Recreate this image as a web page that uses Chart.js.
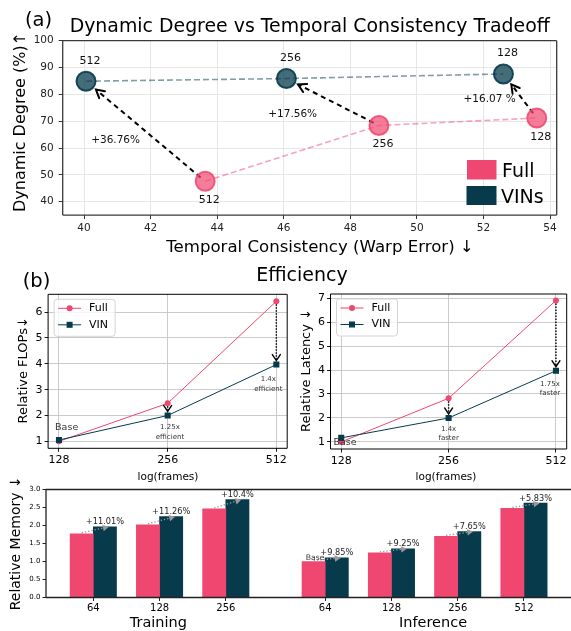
<!DOCTYPE html>
<html><head><meta charset="utf-8">
<script src="https://cdn.jsdelivr.net/npm/chart.js@4.4.1/dist/chart.umd.min.js"></script>
<style>
html,body{margin:0;padding:0;background:#fff;}
#wrap{position:relative;width:571px;height:631px;overflow:hidden;background:#fff;}
canvas{position:absolute;left:0;top:0;}
</style></head><body>
<div id="wrap">
<canvas id="cA" width="571" height="631"></canvas>
<canvas id="cB1" width="571" height="631"></canvas>
<canvas id="cB2" width="571" height="631"></canvas>
<canvas id="cC" width="571" height="631"></canvas>
</div>
<script>
// ---------------- data ----------------
// (a) Dynamic degree vs temporal consistency
const scatterFrames = ['512', '256', '128'];
const vinWarp = [40.06, 46.08, 52.6];
const vinDynamic = [84.9, 85.9, 87.6];
const fullWarp = [43.64, 48.86, 53.6];
const fullDynamic = [47.6, 68.4, 71.2];
const gainLabels = ['+36.76%', '+17.56%', '+16.07 %'];
const warpTicks = [40, 42, 44, 46, 48, 50, 52, 54];
const dynamicTicks = [40, 50, 60, 70, 80, 90, 100];

// (b) efficiency line charts
const lineFrames = ['128', '256', '512'];
const flopsFull = [1.0, 2.47, 6.42];
const flopsVIN = [1.05, 2.0, 3.97];
const flopsTicks = [1, 2, 3, 4, 5, 6];
const flopsNotes = ['Base', '1.25x\nefficient', '1.4x\nefficient'];
const latencyFull = [1.0, 2.82, 6.9];
const latencyVIN = [1.17, 2.0, 3.97];
const latencyTicks = [1, 2, 3, 4, 5, 6, 7];
const latencyNotes = ['Base', '1.4x\nfaster', '1.75x\nfaster'];

// memory bars
const trainFrames = ['64', '128', '256'];
const trainFull = [1.77, 2.02, 2.46];
const trainVIN = [1.965, 2.245, 2.72];
const trainGain = ['+11.01%', '+11.26%', '+10.4%'];
const infFrames = ['64', '128', '256', '512'];
const infFull = [1.0, 1.24, 1.70, 2.475];
const infVIN = [1.10, 1.355, 1.83, 2.62];
const infGain = ['+9.85%', '+9.25%', '+7.65%', '+5.83%'];
const memoryTicks = [0, 0.5, 1, 1.5, 2, 2.5, 3];

// ---------------- layout / style ----------------
const PINK = '#EF476F', TEAL = '#073B4C';
const FONT = '"DejaVu Sans", sans-serif';
const W = 571, H = 631;
const groupPos = [0, 1, 2, 3.5, 4.5, 5.5, 6.5];   // bar group slots on the x axis

Chart.defaults.font.family = FONT;
Chart.defaults.animation = false;
Chart.defaults.responsive = false;
Chart.defaults.maintainAspectRatio = false;
Chart.defaults.plugins.legend.display = false;
Chart.defaults.plugins.tooltip.enabled = false;

function pad(a, yW, xH) { return {left: a.l - yW, top: a.t, right: W - a.r, bottom: H - a.b - xH}; }
function ticksAt(list) { return s => { s.ticks = list.map(v => ({value: v})); }; }
function fitY(w) { return s => { s.width = w; s.paddingTop = 0; s.paddingBottom = 0; }; }
function fitX(h) { return s => { s.height = h; s.paddingLeft = 0; s.paddingRight = 0; }; }

function txt(ctx, s, x, y, size, o = {}) {
  ctx.save();
  ctx.font = `${size}px ${FONT}`;
  ctx.fillStyle = o.color || '#000';
  ctx.textAlign = o.align || 'center';
  ctx.textBaseline = o.base || 'alphabetic';
  ctx.translate(x, y);
  if (o.rot) ctx.rotate(o.rot);
  ctx.fillText(s, 0, 0);
  ctx.restore();
}
function arrow(ctx, x1, y1, x2, y2, o) {
  const dx = x2 - x1, dy = y2 - y1, L = Math.hypot(dx, dy), ux = dx / L, uy = dy / L;
  const sx = x1 + ux * o.sa, sy = y1 + uy * o.sa, ex = x2 - ux * o.sb, ey = y2 - uy * o.sb;
  ctx.save();
  ctx.strokeStyle = o.color; ctx.fillStyle = o.color; ctx.lineWidth = o.lw;
  ctx.setLineDash(o.dash);
  ctx.beginPath(); ctx.moveTo(sx, sy); ctx.lineTo(ex - ux * (o.fill ? o.hl * 0.8 : 0), ey - uy * (o.fill ? o.hl * 0.8 : 0)); ctx.stroke();
  ctx.setLineDash([]);
  const bx = ex - ux * o.hl, by = ey - uy * o.hl, px = -uy, py = ux;
  ctx.beginPath();
  ctx.moveTo(bx + px * o.hw, by + py * o.hw); ctx.lineTo(ex, ey); ctx.lineTo(bx - px * o.hw, by - py * o.hw);
  if (o.fill) { ctx.closePath(); ctx.fill(); } else { ctx.lineCap = 'round'; ctx.lineJoin = 'miter'; ctx.stroke(); }
  ctx.restore();
}
function box(ctx, a, color, lw, sides) {
  ctx.save(); ctx.strokeStyle = color; ctx.lineWidth = lw; ctx.beginPath();
  if (sides.includes('t')) { ctx.moveTo(a.left, a.top); ctx.lineTo(a.right, a.top); }
  if (sides.includes('b')) { ctx.moveTo(a.left, a.bottom); ctx.lineTo(a.right, a.bottom); }
  if (sides.includes('l')) { ctx.moveTo(a.left, a.top); ctx.lineTo(a.left, a.bottom); }
  if (sides.includes('r')) { ctx.moveTo(a.right, a.top); ctx.lineTo(a.right, a.bottom); }
  ctx.stroke(); ctx.restore();
}

// ---------------- (a) scatter ----------------
const AREA_A = {l: 62.7, t: 40.7, r: 556.7, b: 215.1};
const gainOffset = [[-30, 9], [-40, 12.5], [-30.5, 3.7]];
const pluginA = {
  id: 'annA',
  beforeDatasetsDraw(chart) {
    const {ctx, scales: {x, y}} = chart;
    for (let i = 0; i < 3; i++) {
      arrow(ctx, x.getPixelForValue(fullWarp[i]), y.getPixelForValue(fullDynamic[i]),
        x.getPixelForValue(vinWarp[i]), y.getPixelForValue(vinDynamic[i]),
        {sa: 6, sb: 13, color: '#000', lw: 2, dash: [5, 4], hl: 8, hw: 4.5, fill: false});
    }
  },
  afterDraw(chart) {
    const {ctx, scales: {x, y}, chartArea: a} = chart;
    box(ctx, a, '#3a3a3a', 1.3, 'tblr');
    for (let i = 0; i < 3; i++) {
      const vx = x.getPixelForValue(vinWarp[i]), vy = y.getPixelForValue(vinDynamic[i]);
      const fx = x.getPixelForValue(fullWarp[i]), fy = y.getPixelForValue(fullDynamic[i]);
      txt(ctx, scatterFrames[i], vx + 4, vy - 20.5, 11, {base: 'middle', color: '#111'});
      txt(ctx, scatterFrames[i], fx + 4, fy + 19, 11, {base: 'middle', color: '#111'});
      const mx = (vx + fx) / 2 + gainOffset[i][0], my = (vy + fy) / 2 + gainOffset[i][1];
      txt(ctx, gainLabels[i], mx, my, 10.5, {base: 'middle', color: '#111'});
    }
    // legend
    ctx.fillStyle = PINK; ctx.fillRect(467, 160, 29.5, 19.5);
    ctx.fillStyle = TEAL; ctx.fillRect(466.5, 186, 30, 19);
    txt(ctx, 'Full', 502, 177, 19, {align: 'left'});
    txt(ctx, 'VINs', 501, 203, 19, {align: 'left'});
    // titles
    txt(ctx, '(a)', 25, 25.5, 19.5, {align: 'left'});
    txt(ctx, 'Dynamic Degree vs Temporal Consistency Tradeoff', (a.left + a.right) / 2, 31.7, 18.9);
    txt(ctx, 'Dynamic Degree (%)\u2191', 25, 122, 16, {rot: -Math.PI / 2});
    txt(ctx, 'Temporal Consistency (Warp Error) \u2193', 320, 251.5, 16.6);
  }
};
new Chart(document.getElementById('cA'), {
  type: 'scatter',
  data: {datasets: [
    {label: 'VINs', data: vinWarp.map((v, i) => ({x: v, y: vinDynamic[i]})), showLine: true,
     borderColor: 'rgba(7,59,76,0.5)', borderWidth: 1.6, borderDash: [6, 3],
     pointRadius: 9.5, pointBackgroundColor: 'rgba(7,59,76,0.75)', pointBorderColor: 'rgba(7,59,76,0.9)', pointBorderWidth: 2},
    {label: 'Full', data: fullWarp.map((v, i) => ({x: v, y: fullDynamic[i]})), showLine: true,
     borderColor: 'rgba(239,71,111,0.5)', borderWidth: 1.6, borderDash: [6, 3],
     pointRadius: 9.5, pointBackgroundColor: 'rgba(239,71,111,0.7)', pointBorderColor: 'rgba(239,71,111,0.85)', pointBorderWidth: 2}
  ]},
  options: {
    devicePixelRatio: 1,
    layout: {padding: pad(AREA_A, 50, 20)},
    scales: {
      x: {type: 'linear', min: 39.36, max: 54.2, afterBuildTicks: ticksAt(warpTicks), afterFit: fitX(20),
          ticks: {font: {size: 10.5}, color: '#222', padding: 3, maxRotation: 0, autoSkip: false},
          grid: {color: '#e6e6e6', tickColor: '#333', tickLength: 4}, border: {display: false}},
      y: {type: 'linear', min: 35, max: 100, afterBuildTicks: ticksAt(dynamicTicks), afterFit: fitY(50),
          ticks: {font: {size: 10.5}, color: '#222', padding: 5, autoSkip: false},
          grid: {color: '#e6e6e6', tickColor: '#333', tickLength: 4}, border: {display: false}}
    }
  },
  plugins: [pluginA]
});

// ---------------- (b) line charts ----------------
function lineChart(id, area, full, vin, yTicks, yMin, yMax, notes, noteOff, noteGap, yTitle, yTitleX, xTitleX, extra) {
  const plugin = {
    id: 'ann' + id,
    afterDatasetsDraw(chart) {
      const {ctx, scales: {x, y}} = chart;
      for (let i = 1; i < 3; i++) {
        const px = x.getPixelForValue(i);
        arrow(ctx, px, y.getPixelForValue(full[i]) + 3, px, y.getPixelForValue(vin[i]) - 4,
          {sa: 0, sb: 0, color: '#000', lw: 1.4, dash: [1.5, 1.5], hl: 6, hw: 4, fill: false});
      }
    },
    afterDraw(chart) {
      const {ctx, scales: {x, y}, chartArea: a} = chart;
      box(ctx, a, '#000', 1, 'tblr');
      for (let i = 0; i < 3; i++) {
        const px = x.getPixelForValue(i) + noteOff[i][0], py = y.getPixelForValue(vin[i]) + noteOff[i][1];
        const lines = notes[i].split('\n');
        const size = lines.length === 1 ? 9.5 : 7;
        lines.forEach((s, k) => txt(ctx, s, px, py + k * noteGap, size, {base: 'middle', color: '#333'}));
      }
      // legend
      const lx = a.left + 6, ly = a.top + 5;
      ctx.save();
      ctx.fillStyle = 'rgba(255,255,255,0.8)'; ctx.strokeStyle = '#d4d4d4'; ctx.lineWidth = 1;
      ctx.beginPath(); ctx.roundRect(lx, ly, 61, 37, 3); ctx.fill(); ctx.stroke();
      [[PINK, 'Full', 'circle', 9], [TEAL, 'VIN', 'rect', 25.5]].forEach(([c, s, st, dy]) => {
        ctx.strokeStyle = c; ctx.fillStyle = c; ctx.lineWidth = 1;
        ctx.beginPath(); ctx.moveTo(lx + 4, ly + dy); ctx.lineTo(lx + 27, ly + dy); ctx.stroke();
        if (st === 'circle') { ctx.beginPath(); ctx.arc(lx + 15.5, ly + dy, 3, 0, Math.PI * 2); ctx.fill(); }
        else ctx.fillRect(lx + 12.5, ly + dy - 3, 6, 6);
        txt(ctx, s, lx + 35, ly + dy, 11, {align: 'left', base: 'middle'});
      });
      ctx.restore();
      txt(ctx, yTitle, yTitleX, (a.top + a.bottom) / 2 - 1, 13, {rot: -Math.PI / 2});
      txt(ctx, 'log(frames)', xTitleX, 479.5, 10.5);
      if (extra) extra(ctx);
    }
  };
  new Chart(document.getElementById(id), {
    type: 'line',
    data: {datasets: [
      {label: 'VIN', data: vin.map((v, i) => ({x: i, y: v})), borderColor: TEAL, borderWidth: 1,
       pointStyle: 'rect', pointRadius: 4.3, pointBackgroundColor: TEAL, pointBorderWidth: 0},
      {label: 'Full', data: full.map((v, i) => ({x: i, y: v})), borderColor: PINK, borderWidth: 1,
       pointStyle: 'circle', pointRadius: 3, pointBackgroundColor: PINK, pointBorderWidth: 0}
    ]},
    options: {
      devicePixelRatio: 1,
      layout: {padding: pad(area, 40, 20)},
      scales: {
        x: {type: 'linear', min: -0.1, max: 2.1, afterBuildTicks: ticksAt([0, 1, 2]), afterFit: fitX(20),
            ticks: {font: {size: 11}, color: '#000', padding: 2, maxRotation: 0, autoSkip: false,
                    callback: (v, i) => lineFrames[i]},
            grid: {color: '#c4c4c4', lineWidth: 0.9, tickColor: '#000', tickLength: 3.5}, border: {display: false}},
        y: {type: 'linear', min: yMin, max: yMax, afterBuildTicks: ticksAt(yTicks), afterFit: fitY(40),
            ticks: {font: {size: 11}, color: '#000', padding: 2, autoSkip: false},
            grid: {color: '#c4c4c4', lineWidth: 0.9, tickColor: '#000', tickLength: 3.5}, border: {display: false}}
      }
    },
    plugins: [plugin]
  });
}
lineChart('cB1', {l: 48.1, t: 294.3, r: 287.2, b: 448.3}, flopsFull, flopsVIN, flopsTicks, 0.73, 6.69,
  flopsNotes, [[7.7, -12.7], [2.3, 11.8], [-8, 14.7]], 10, 'Relative FLOPs\u2193', 26.5, 168,
  ctx => {
    txt(ctx, '(b)', 22.7, 287, 19.5, {align: 'left'});
    txt(ctx, 'Efficiency', 302, 281, 19);
  });
lineChart('cB2', {l: 330.5, t: 294, r: 570.5, b: 449}, latencyFull, latencyVIN, latencyTicks, 0.706, 7.17,
  latencyNotes, [[3.8, 5], [0, 11], [-6, 13.6]], 9, 'Relative Latency \u2193', 310, 446, null);

// ---------------- memory bars ----------------
const AREA_C = {l: 46, t: 489.5, r: 571, b: 597.5};
const barFrames = trainFrames.concat(infFrames);
const allFull = trainFull.concat(infFull);
const allVIN = trainVIN.concat(infVIN);
const allGain = trainGain.concat(infGain);
const XMIN_C = -0.714, XMAX_C = 7.21;
const BAR_W = 0.35 * (AREA_C.r - AREA_C.l) / (XMAX_C - XMIN_C);
const pluginC = {
  id: 'annC',
  afterDraw(chart) {
    const {ctx, scales: {x, y}, chartArea: a} = chart;
    box(ctx, a, '#222', 1.3, 'tbl');
    for (let i = 0; i < groupPos.length; i++) {
      const c = x.getPixelForValue(groupPos[i]);
      const pc = c - BAR_W / 2, dc = c + BAR_W / 2;
      const pt = y.getPixelForValue(allFull[i]), dt = y.getPixelForValue(allVIN[i]);
      arrow(ctx, pc, pt - 1, dc + 4, dt, {sa: 0, sb: 0, color: '#9a9a9a', lw: 1.3, dash: [1.3, 2], hl: 6, hw: 3.2, fill: true});
      txt(ctx, allGain[i], dc, dt - 2.5, 8.2, {color: '#222'});
    }
    const b0 = x.getPixelForValue(groupPos[3]) - BAR_W / 2;
    txt(ctx, 'Base', b0 + 1.6, y.getPixelForValue(infFull[0]) - 2, 7.7, {color: '#333'});
    txt(ctx, 'Training', 158.3, 626.7, 14.5);
    txt(ctx, 'Inference', 433, 626.7, 14.5);
    txt(ctx, 'Relative Memory \u2193', 20, 543.3, 14, {rot: -Math.PI / 2});
  }
};
new Chart(document.getElementById('cC'), {
  type: 'bar',
  data: {datasets: [
    {label: 'Full', data: allFull.map((v, i) => ({x: groupPos[i], y: v})), backgroundColor: PINK, borderWidth: 0, barThickness: BAR_W},
    {label: 'VIN', data: allVIN.map((v, i) => ({x: groupPos[i], y: v})), backgroundColor: TEAL, borderWidth: 0, barThickness: BAR_W}
  ]},
  options: {
    devicePixelRatio: 1,
    layout: {padding: pad(AREA_C, 40, 20)},
    scales: {
      x: {type: 'linear', offset: false, min: XMIN_C, max: XMAX_C, afterBuildTicks: ticksAt(groupPos), afterFit: fitX(20),
          ticks: {font: {size: 10}, color: '#000', padding: 1.5, maxRotation: 0, autoSkip: false,
                  callback: (v, i) => barFrames[i]},
          grid: {display: true, offset: false, drawOnChartArea: false, tickColor: '#222', tickLength: 3.5}, border: {display: false}},
      y: {type: 'linear', min: 0, max: 3, afterBuildTicks: ticksAt(memoryTicks), afterFit: fitY(40),
          ticks: {font: {size: 7}, color: '#000', padding: 2, autoSkip: false, callback: v => v.toFixed(1)},
          grid: {display: true, drawOnChartArea: false, tickColor: '#222', tickLength: 3.5}, border: {display: false}}
    }
  },
  plugins: [pluginC]
});
</script>
</body></html>
